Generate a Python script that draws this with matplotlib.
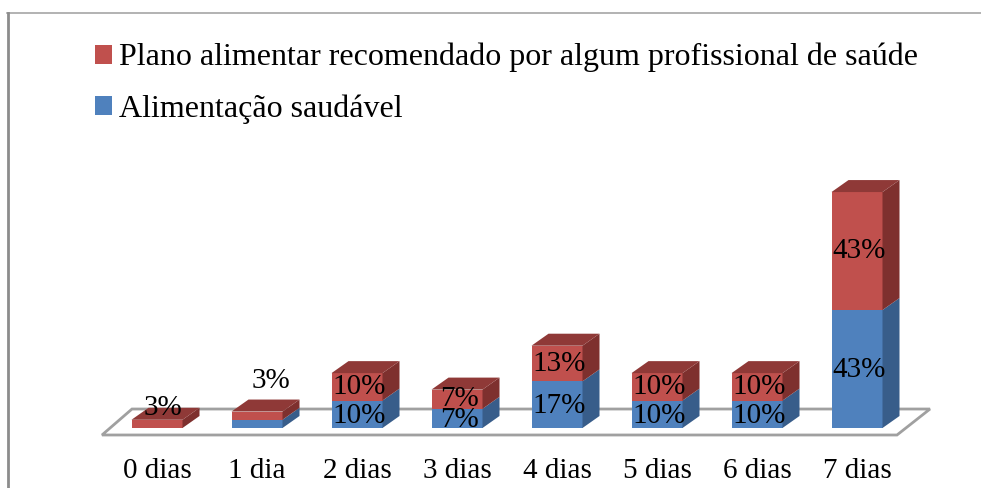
import matplotlib
matplotlib.use("Agg")
import matplotlib.pyplot as plt
from matplotlib.patches import Polygon, Rectangle, Patch
from matplotlib.lines import Line2D

categorias = ["0 dias", "1 dia", "2 dias", "3 dias", "4 dias", "5 dias", "6 dias", "7 dias"]
saudavel = [0, 3, 10, 7, 17, 10, 10, 43]
plano = [3, 3, 10, 7, 13, 10, 10, 43]
serie_saudavel = "Alimentação saudável"
serie_plano = "Plano alimentar recomendado por algum profissional de saúde"

azul, azul_lado = "#4F81BD", "#385D8A"
verm, verm_lado, verm_topo = "#C0504D", "#7E302E", "#8F3937"

plt.rcParams["font.family"] = ["Liberation Serif", "DejaVu Serif"]

fig = plt.figure(figsize=(9.81, 4.88), dpi=100)
ax = fig.add_axes([0, 0, 1, 1])
ax.set_xlim(-1.57, 8.24)
ax.set_ylim(-21.87, 156.0)
ax.axis("off")

w = 0.51      # largura da barra
dx, dy = 0.17, 4.37   # profundidade

# chao
chao = Polygon([(-0.55, -2.55), (7.40, -2.55), (7.73, 6.92), (-0.25, 6.92)],
               closed=True, facecolor="white", edgecolor="#A0A0A0", lw=2, zorder=1)
ax.add_patch(chao)


def segmento(x, y0, h, cor, lado, topo=None):
    if h <= 0:
        return
    ax.add_patch(Rectangle((x - w / 2, y0), w, h, facecolor=cor, edgecolor="none", zorder=2))
    xr = x + w / 2
    ax.add_patch(Polygon([(xr, y0), (xr + dx, y0 + dy), (xr + dx, y0 + h + dy), (xr, y0 + h)],
                         closed=True, facecolor=lado, edgecolor="none", zorder=2))
    if topo is not None:
        y1 = y0 + h
        ax.add_patch(Polygon([(x - w / 2, y1), (xr, y1), (xr + dx, y1 + dy), (x - w / 2 + dx, y1 + dy)],
                             closed=True, facecolor=topo, edgecolor="none", zorder=2))


fs = 21
for i, cat in enumerate(categorias):
    b, r = saudavel[i], plano[i]
    segmento(i, 0, b, azul, azul_lado)
    segmento(i, b, r, verm, verm_lado, verm_topo)
    if b >= 5:
        ax.text(i + 0.02, b / 2 - 0.5, f"{b}%", ha="center", va="center", fontsize=fs, zorder=3)
    if r >= 5:
        ax.text(i + 0.02, b + r / 2, f"{r}%", ha="center", va="center", fontsize=fs, zorder=3)
    elif i == 0:
        ax.text(i + 0.06, b + r + 4.3, f"{r}%", ha="center", va="center", fontsize=fs, zorder=3)
    else:
        ax.text(i + 0.14, b + r + 11, f"{r}%", ha="center", va="center", fontsize=fs, zorder=3)
    ax.text(i, -15.5, cat, ha="center", va="center", fontsize=fs)

# moldura
fig.add_artist(Line2D([7 / 981, 1], [1 - 13 / 488, 1 - 13 / 488], color="#A6A6A6", lw=1.2))
fig.add_artist(Line2D([7.5 / 981, 7.5 / 981], [0, 1 - 13 / 488], color="#8C8C8C", lw=2))

handles = [Patch(facecolor=verm), Patch(facecolor=azul)]
fig.legend(handles, [serie_plano, serie_saudavel], loc="upper left",
           bbox_to_anchor=(95 / 981, 1 - 43 / 488), frameon=False, fontsize=23,
           borderpad=0, borderaxespad=0,
           handlelength=0.53, handleheight=0.53, handletextpad=0.22, labelspacing=0.68)

fig.savefig("out.png", dpi=100)
